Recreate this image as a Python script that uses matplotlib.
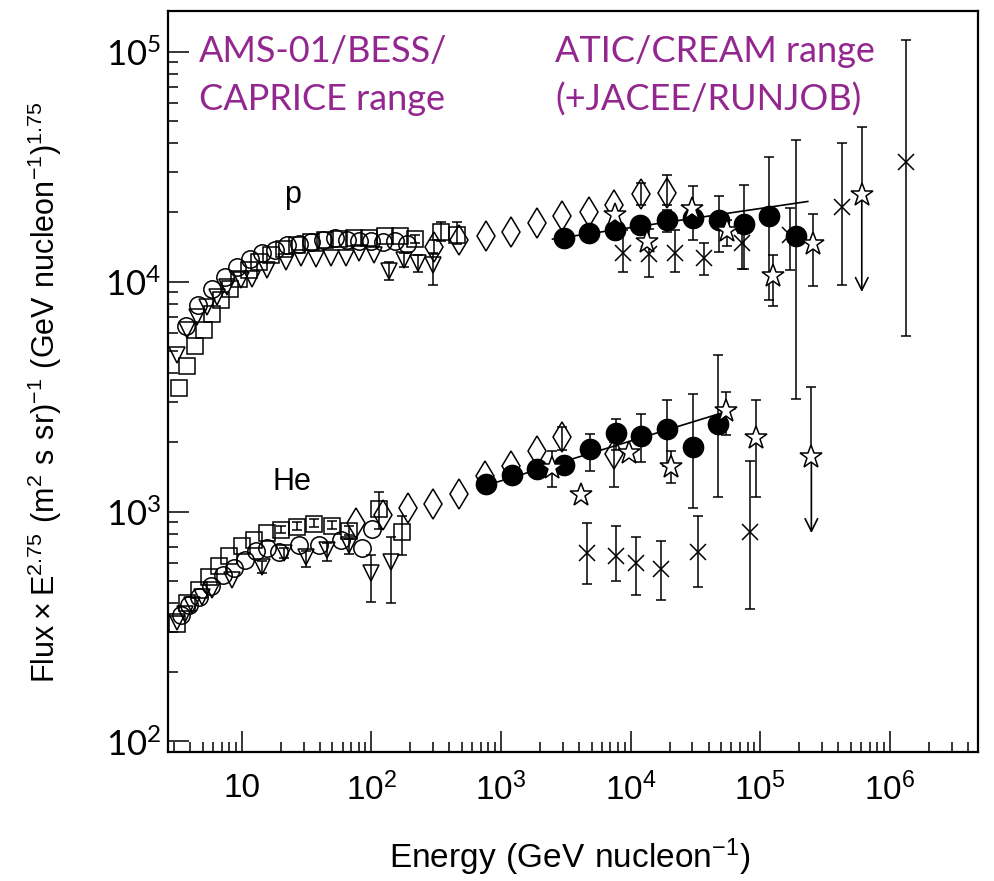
import numpy as np
import matplotlib
matplotlib.use("Agg")
import matplotlib.pyplot as plt
from matplotlib.ticker import LogLocator, NullFormatter, FixedLocator, FixedFormatter

NARROW = ["Liberation Sans Narrow", "Liberation Sans", "DejaVu Sans"]
PURPLE = "#93278f"

# ---------------- proton ----------------
# low energy: squares / circles / inverted triangles
p_sq_E = [3.29, 3.79, 4.37, 5.13, 5.92, 6.95, 8.15, 9.56, 11.4, 13.6, 16.9, 21.3, 26.8, 34.4,
          44.2, 56.6, 73.9, 96.6, 128, 165, 219, 347, 462]
p_sq_F = [3450, 4300, 5250, 6160, 7240, 8320, 9290, 10270, 11240, 12180, 13060, 13870, 14440, 14880,
          15180, 15330, 15490, 15490, 15800, 15800, 15330, 16450, 15960]
p_sq_lo = [0, 0, 0, 0, 0, 0, 0, 0, 0, 0, 0, 0, 0, 0, 0, 0, 0, 0, 0, 0, 600, 1500, 1400]
p_sq_hi = [0, 0, 0, 0, 0, 0, 0, 0, 0, 0, 0, 0, 0, 0, 0, 0, 0, 0, 0, 0, 600, 1730, 2220]

p_ci_E = [3.73, 4.61, 5.92, 7.46, 9.23, 11.6, 14.4, 18.1, 22.4, 27.8, 34.4, 42.6, 52.7, 65.3,
          80.8, 100, 124, 153, 190]
p_ci_F = [6420, 7920, 9290, 10480, 11580, 12550, 13330, 13730, 14440, 14580, 14880, 15180, 15490, 15180,
          15030, 15030, 14880, 15030, 14580]

p_tr_E = [3.18, 3.79, 4.53, 5.42, 6.47, 7.73, 9.91, 12.1, 15.7, 22.1, 28.8, 37.6, 49.1, 64.1,
          80.8, 105, 138, 180, 231, 301]
p_tr_F = [4800, 6160, 7030, 7760, 8580, 9480, 10170, 10270, 11240, 12180, 12670, 12550, 12670, 12670,
          13330, 13060, 11130, 12420, 12060, 11820]
p_tr_lo = [0, 0, 0, 0, 0, 0, 0, 0, 0, 0, 0, 0, 0, 0, 0, 0, 1000, 900, 1000, 2150]
p_tr_hi = [0, 0, 0, 0, 0, 0, 0, 0, 0, 0, 0, 0, 0, 0, 0, 0, 1000, 900, 1000, 1500]

# diamonds
p_dm_E = [306, 478, 773, 1205, 1914, 2985, 4742, 7516, 11944, 18963]
p_dm_F = [14150, 15180, 15800, 16450, 17990, 19310, 20100, 21560, 24060, 24300]
p_dm_lo = [1000, 0, 0, 0, 0, 0, 0, 0, 2500, 2740]
p_dm_hi = [1000, 0, 0, 0, 0, 0, 0, 0, 2730, 4800]

# filled circles
p_fc_E = [3040, 4820, 7650, 11900, 19000, 30100, 47800, 74600, 118000, 188000]
p_fc_F = [15500, 16300, 16800, 17650, 18500, 18900, 18500, 17800, 19300, 15800]
p_fc_lo = [400, 400, 500, 600, 2020, 3720, 5020, 6470, 10990, 12700]
p_fc_hi = [400, 400, 500, 600, 1950, 7250, 5060, 8570, 15650, 25500]

# stars
p_st_E = [7520, 13500, 29600, 55100, 125000, 254000, 608000]
p_st_F = [19500, 14900, 20700, 16600, 10600, 14600, 23800]
p_st_lo = [0, 0, 0, 2390, 2785, 5080, 0]
p_st_hi = [0, 0, 0, 1930, 2470, 5110, 23240]

# crosses
p_x_E = [8670, 13800, 21900, 36600, 72000, 169000, 426000, 1.33e6]
p_x_F = [13330, 13190, 13330, 12670, 14730, 15960, 21130, 33150]
p_x_lo = [2340, 2710, 2340, 1980, 3380, 4720, 11455, 27350]
p_x_hi = [3450, 3760, 3450, 2060, 1560, 4940, 18960, 79250]

p_fit_E = [2500, 233000]
p_fit_F = [15300, 22300]

# ---------------- helium ----------------
he_sq_E = [3.18, 3.79, 4.69, 5.61, 6.70, 8.0, 10.1, 12.5, 15.7, 20.2, 26.8, 36.3, 50.0, 67.6, 115, 173]
he_sq_F = [325, 401, 457, 520, 580, 641, 709, 753, 808, 832, 858, 885, 867, 824, 1027, 816]
he_sq_lo = [0, 0, 0, 0, 0, 0, 0, 0, 0, 25, 30, 30, 30, 30, 185, 168]
he_sq_hi = [0, 0, 0, 0, 0, 0, 0, 0, 0, 30, 40, 40, 40, 40, 185, 142]

he_ci_E = [3.41, 3.94, 4.69, 5.81, 7.19, 8.75, 10.6, 12.9, 15.7, 19.5, 27.8, 39.7, 58.7, 85.3, 102]
he_ci_F = [356, 393, 426, 475, 531, 569, 617, 675, 695, 668, 716, 716, 753, 695, 841]

he_tr_E = [3.18, 3.66, 4.15, 4.95, 5.92, 8.44, 14.4, 21.3, 31.5, 45.8, 67.6, 100, 143]
he_tr_F = [331, 359, 393, 426, 457, 505, 575, 661, 635, 681, 716, 541, 604]
he_tr_lo = [0, 0, 0, 0, 0, 0, 35, 30, 60, 70, 65, 136, 203]
he_tr_hi = [0, 0, 0, 0, 0, 0, 35, 30, 40, 50, 40, 107, 172]

he_dm_E = [76.6, 122, 191, 301, 478, 759, 1205, 1890, 2985, 7516]
he_dm_F = [893, 968, 1041, 1080, 1195, 1430, 1580, 1837, 2113, 1782]
he_dm_lo = [0, 0, 0, 0, 0, 0, 0, 0, 261, 499]
he_dm_hi = [0, 0, 0, 0, 0, 0, 0, 0, 221, 220]

he_fc_E = [769, 1221, 1904, 3040, 4823, 7654, 12010, 19230, 30270, 47540]
he_fc_F = [1320, 1438, 1534, 1595, 1873, 2192, 2134, 2281, 1915, 2406]
he_fc_lo = [40, 40, 50, 60, 376, 340, 494, 700, 881, 1247]
he_fc_hi = [40, 40, 50, 60, 304, 340, 525, 760, 1335, 2392]

he_st_E = [2485, 4160, 9700, 20610, 54190, 92300, 248300]
he_st_F = [1541, 1184, 1794, 1557, 2728, 2096, 1719]
he_st_lo = [258, 0, 0, 232, 581, 941, 0]
he_st_hi = [298, 0, 0, 282, 598, 950, 1764]

he_x_E = [4597, 7758, 11070, 17270, 33110, 82980]
he_x_F = [661, 641, 600, 565, 668, 812]
he_x_lo = [175, 144, 167, 152, 199, 437]
he_x_hi = [228, 226, 176, 181, 286, 853]

he_fit_E = [660, 63500]
he_fit_F = [1265, 2790]

# upper limits (star points with arrows)
ul_E = [608000, 248300]
ul_F = [23800, 1719]
ul_end = [9010, 806]

x_ticks = [10, 1e2, 1e3, 1e4, 1e5, 1e6]
x_labels = ["10", r"$\mathregular{10^{2}}$", r"$\mathregular{10^{3}}$", r"$\mathregular{10^{4}}$",
            r"$\mathregular{10^{5}}$", r"$\mathregular{10^{6}}$"]
y_ticks = [1e2, 1e3, 1e4, 1e5]
y_labels = [r"$\mathregular{10^{2}}$", r"$\mathregular{10^{3}}$", r"$\mathregular{10^{4}}$",
            r"$\mathregular{10^{5}}$"]


def series(ax, E, F, lo, hi, marker, ms, fc="none", z=3):
    E, F = np.asarray(E, float), np.asarray(F, float)
    if lo is not None:
        lo, hi = np.asarray(lo, float), np.asarray(hi, float)
        m = (lo + hi) > 0
        ax.errorbar(E[m], F[m], yerr=[lo[m], hi[m]], fmt="none", ecolor="black",
                    elinewidth=1.1, capsize=3.5, capthick=1.1, zorder=2)
    ax.plot(E, F, linestyle="none", marker=marker, ms=ms, mfc=fc, mec="black",
            mew=1.1, zorder=z)


fig = plt.figure(figsize=(9.94, 8.81), dpi=100)
ax = fig.add_axes([0.169, 0.1464, 0.815, 0.841])
ax.set_xscale("log")
ax.set_yscale("log")
ax.set_xlim(2.7, 4.8e6)
ax.set_ylim(90, 1.5e5)

for E, F, lo, hi in [(p_sq_E, p_sq_F, p_sq_lo, p_sq_hi), (he_sq_E, he_sq_F, he_sq_lo, he_sq_hi)]:
    series(ax, E, F, lo, hi, "s", 11)
for E, F in [(p_ci_E, p_ci_F), (he_ci_E, he_ci_F)]:
    series(ax, E, F, None, None, "o", 12.5)
for E, F, lo, hi in [(p_tr_E, p_tr_F, p_tr_lo, p_tr_hi), (he_tr_E, he_tr_F, he_tr_lo, he_tr_hi)]:
    series(ax, E, F, lo, hi, "v", 12)
for E, F, lo, hi in [(p_dm_E, p_dm_F, p_dm_lo, p_dm_hi), (he_dm_E, he_dm_F, he_dm_lo, he_dm_hi)]:
    series(ax, E, F, lo, hi, "d", 15)
for E, F, lo, hi in [(p_x_E, p_x_F, p_x_lo, p_x_hi), (he_x_E, he_x_F, he_x_lo, he_x_hi)]:
    series(ax, E, F, lo, hi, "x", 12)

# fit lines
ax.plot(p_fit_E, p_fit_F, color="black", lw=1.2, zorder=3)
ax.plot(he_fit_E, he_fit_F, color="black", lw=1.2, zorder=3)

for E, F, lo, hi in [(p_fc_E, p_fc_F, p_fc_lo, p_fc_hi), (he_fc_E, he_fc_F, he_fc_lo, he_fc_hi)]:
    series(ax, E, F, lo, hi, "o", 14.5, fc="black", z=4)

# upper-limit arrows
for E, F, end in zip(ul_E, ul_F, ul_end):
    ax.annotate("", xy=(E, end), xytext=(E, F),
                arrowprops=dict(arrowstyle="->,head_length=0.9,head_width=0.45",
                                color="black", lw=1.2, shrinkA=0, shrinkB=0), zorder=2)

for E, F, lo, hi in [(p_st_E, p_st_F, p_st_lo, p_st_hi), (he_st_E, he_st_F, he_st_lo, he_st_hi)]:
    series(ax, E, F, lo, hi, "*", 17, fc="white", z=5)

# axes styling
ax.xaxis.set_major_locator(FixedLocator(x_ticks))
ax.xaxis.set_major_formatter(FixedFormatter(x_labels))
ax.xaxis.set_minor_locator(LogLocator(base=10, subs=np.arange(2, 10), numticks=50))
ax.xaxis.set_minor_formatter(NullFormatter())
ax.yaxis.set_major_locator(FixedLocator(y_ticks))
ax.yaxis.set_major_formatter(FixedFormatter(y_labels))
ax.yaxis.set_minor_locator(LogLocator(base=10, subs=np.arange(2, 10), numticks=50))
ax.yaxis.set_minor_formatter(NullFormatter())

ax.tick_params(which="both", direction="in", top=False, right=False, width=1.1)
ax.tick_params(which="major", length=15)
ax.tick_params(which="minor", length=7.5)
ax.tick_params(axis="x", which="major", pad=15)
ax.tick_params(axis="y", which="major", pad=5)
for lab in ax.get_xticklabels():
    lab.set_fontfamily(NARROW)
    lab.set_fontsize(24)
for lab in ax.get_yticklabels():
    lab.set_fontfamily(["Lato", "DejaVu Sans"])
    lab.set_fontsize(25)
for s in ax.spines.values():
    s.set_linewidth(1.6)

fig.text(0.045, 0.555,
         r"$\mathregular{Flux \times E^{2.75}\ (m^{2}\ s\ sr)^{-1}\ (GeV\ nucleon^{-1})^{1.75}}$",
         rotation=90, ha="center", va="center", fontsize=22, fontfamily=NARROW)
fig.text(0.573, 0.027, r"$\mathregular{Energy\ (GeV\ nucleon^{-1})}$",
         ha="center", va="center", fontsize=24, fontfamily=NARROW)

ax.text(24.5, 23800, "p", ha="center", va="center", fontsize=22, fontfamily=["Liberation Sans"])
ax.text(24.5, 1346, "He", ha="center", va="center", fontsize=22, fontfamily=["Liberation Sans"])

purple = dict(color=PURPLE, fontsize=26, fontfamily=["Lato", "DejaVu Sans"],
              transform=ax.transAxes, ha="left", va="baseline")
ax.text(0.038, 0.931, "AMS-01/BESS/", **purple)
ax.text(0.038, 0.866, "CAPRICE range", **purple)
ax.text(0.478, 0.931, "ATIC/CREAM range", **purple)
ax.text(0.478, 0.866, "(+JACEE/RUNJOB)", **purple)

fig.savefig("out.png", dpi=100)
